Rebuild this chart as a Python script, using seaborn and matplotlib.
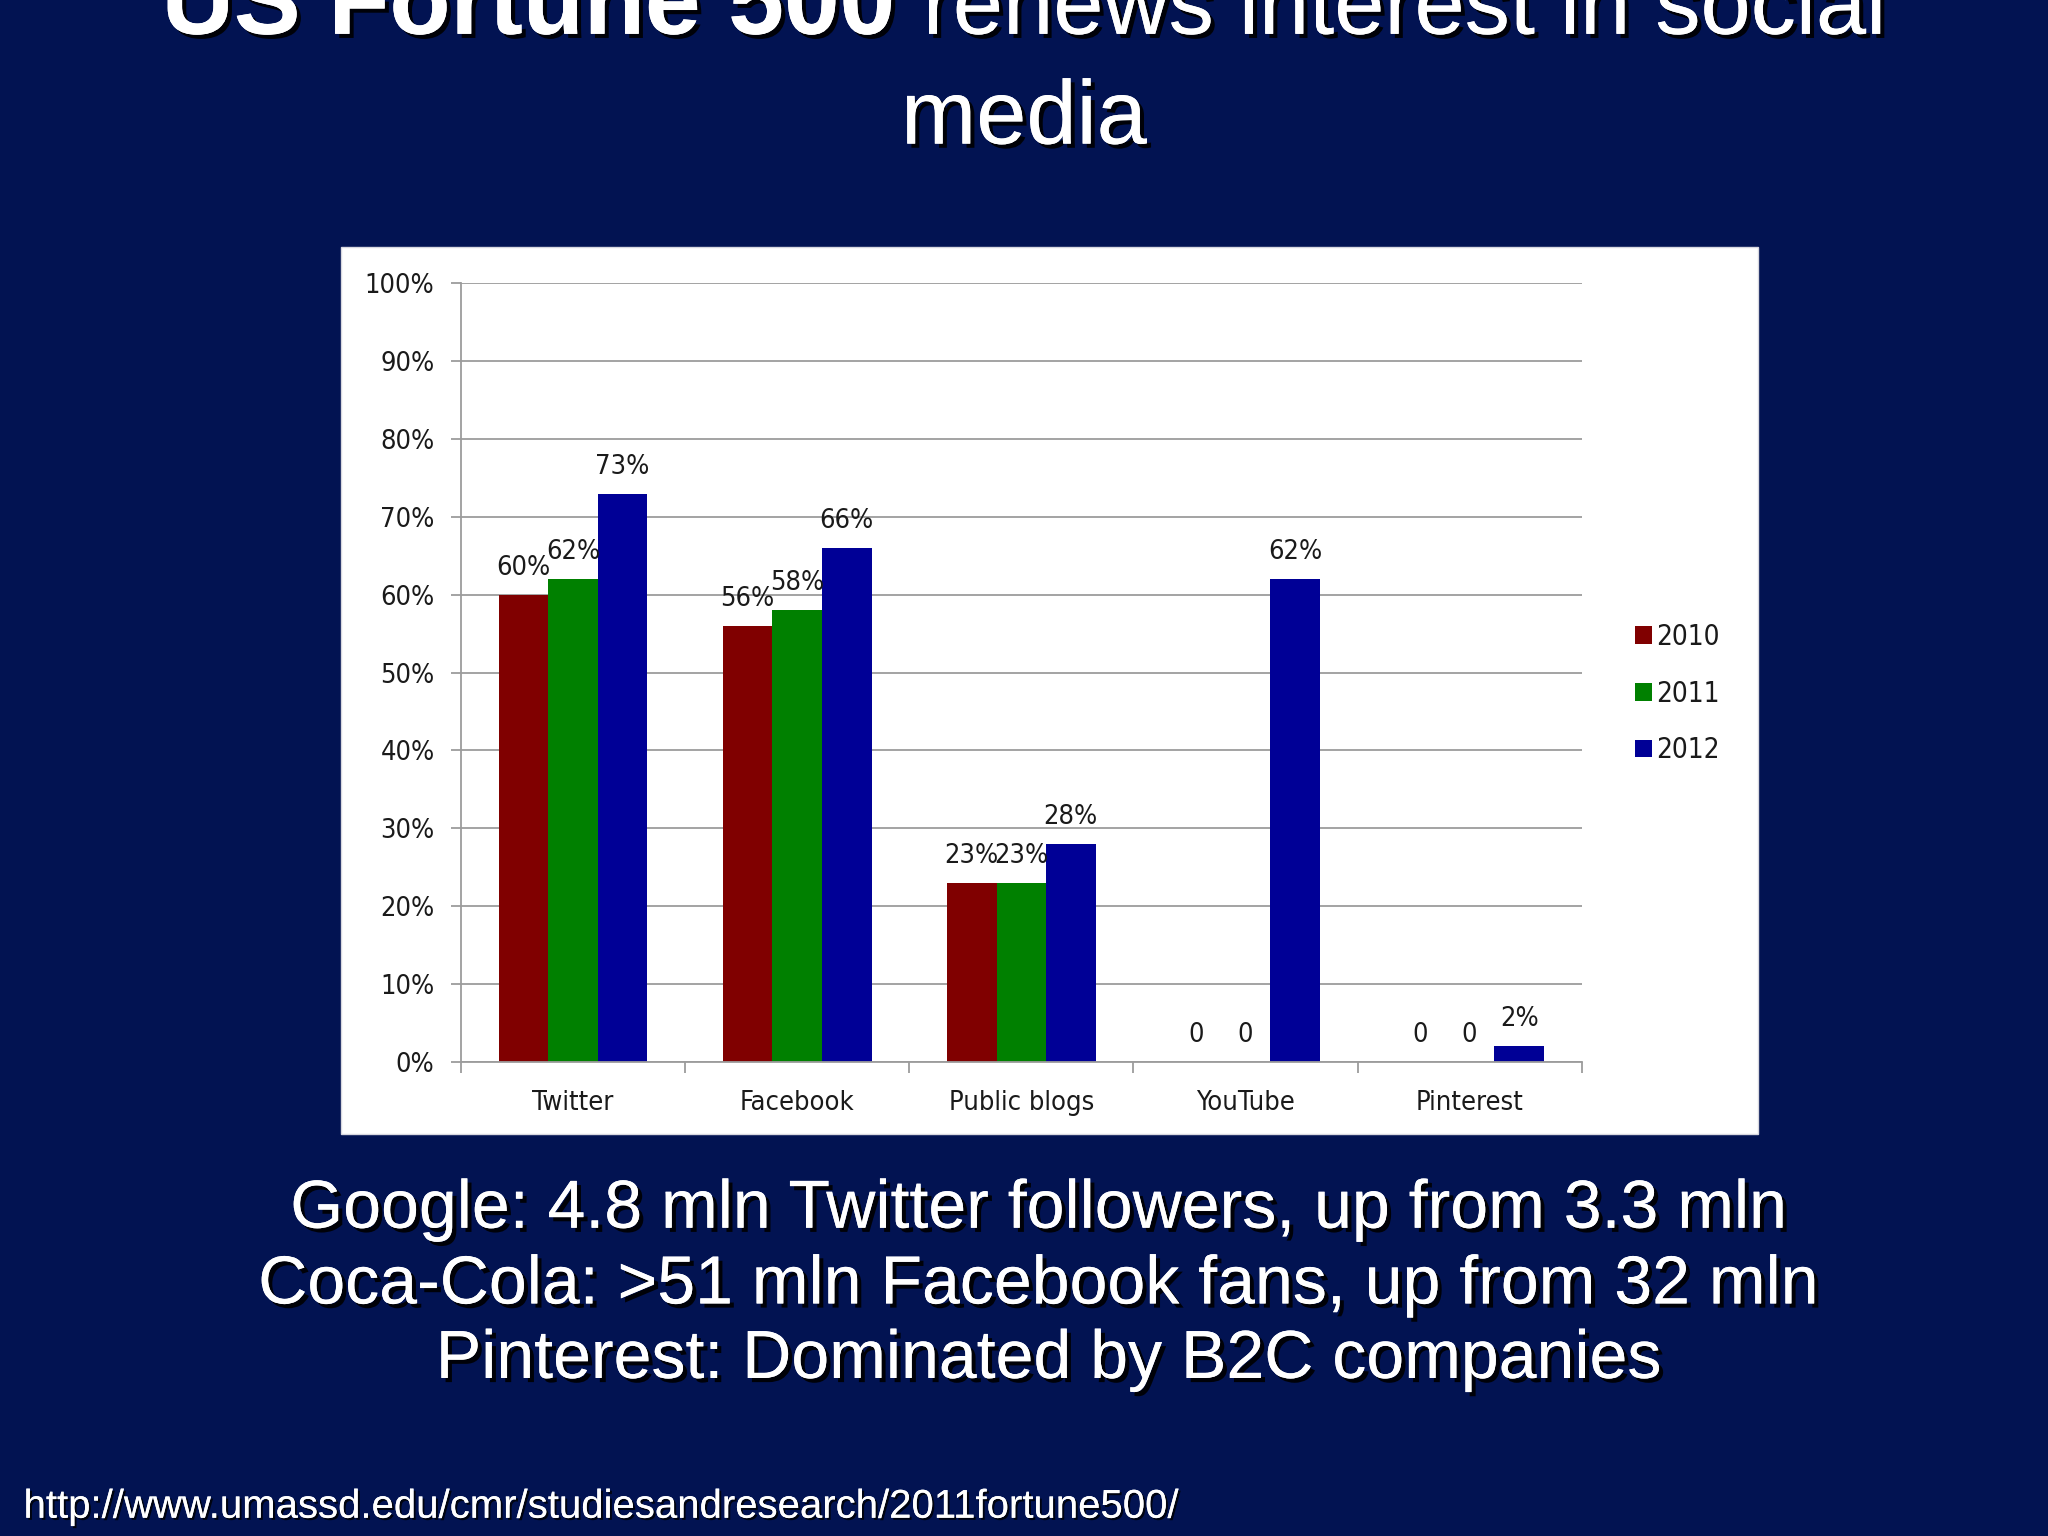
import numpy as np
import pandas as pd
import matplotlib
matplotlib.use("Agg")
import matplotlib.pyplot as plt
import matplotlib.patheffects as pe
from matplotlib.patches import Rectangle
from matplotlib import font_manager
import seaborn as sns

# ---------------- data ----------------
platforms = ["Twitter", "Facebook", "Public blogs", "YouTube", "Pinterest"]
years = ["2010", "2011", "2012"]
values_2010 = [60, 56, 23, 0, 0]
values_2011 = [62, 58, 23, 0, 0]
values_2012 = [73, 66, 28, 62, 2]
y_ticks = [0, 10, 20, 30, 40, 50, 60, 70, 80, 90, 100]
y_tick_labels = [f"{t}%" for t in y_ticks]

title_bold = "US Fortune 500 "
title_regular = "renews interest in social"
title_line2 = "media"
notes = [
    "Google: 4.8 mln Twitter followers, up from 3.3 mln",
    "Coca-Cola: >51 mln Facebook fans, up from 32 mln",
    "Pinterest: Dominated by B2C companies",
]
source_url = "http://www.umassd.edu/cmr/studiesandresearch/2011fortune500/"

colors = {"2010": "#800000", "2011": "#008000", "2012": "#000096"}
BG = "#021352"
GRID = "#9c9c9c"
TXT = "#1a1a1a"

df = pd.DataFrame({
    "platform": platforms * 3,
    "year": [years[0]] * 5 + [years[1]] * 5 + [years[2]] * 5,
    "value": values_2010 + values_2011 + values_2012,
})

sns.set_theme(style="white")
plt.rcParams["font.family"] = ["DejaVu Sans"]

# chart font: a narrow, tall sans if a condensed DejaVu is available
has_condensed = any(f.name == "DejaVu Sans" and str(f.stretch) in ("condensed", "semi-condensed")
                    for f in font_manager.fontManager.ttflist)
if has_condensed:
    CH_FONT = dict(family=["DejaVu Sans"], stretch="condensed")
    CH_SIZE = 19.5
    LEG_SPACING = 1.04
else:
    CH_FONT = dict(family=["DejaVu Sans"])
    CH_SIZE = 17.5
    LEG_SPACING = 1.32

fig = plt.figure(figsize=(20.48, 15.36), dpi=100, facecolor=BG)

# white chart panel
fig.add_artist(Rectangle((0.1665, 0.2619), 0.6919, 0.5774, transform=fig.transFigure,
                         facecolor="white", edgecolor="#d8d8e0", lw=1, zorder=-1))

ax = fig.add_axes([0.2251, 0.3087, 0.5472, 0.5068])
ax.set_facecolor("white")

sns.barplot(data=df, x="platform", y="value", hue="year", order=platforms,
            hue_order=years, palette=colors, width=0.663, saturation=1,
            edgecolor="none", linewidth=0, ax=ax, errorbar=None)

ax.set_xlim(-0.5, 4.5)
ax.set_ylim(0, 100)
ax.set_yticks(y_ticks)
ax.set_yticklabels(y_tick_labels)
ax.set_xlabel("")
ax.set_ylabel("")

ax.set_axisbelow(True)
ax.yaxis.grid(True, color=GRID, lw=1.3)
ax.xaxis.grid(False)
for s in ["top", "right"]:
    ax.spines[s].set_visible(False)
for s in ["left", "bottom"]:
    ax.spines[s].set_color(GRID)
    ax.spines[s].set_linewidth(1.3)

ax.set_xticks(np.arange(-0.5, 5, 1), minor=True)
ax.tick_params(axis="x", which="minor", bottom=True, length=8, width=1.3, color=GRID)
ax.tick_params(axis="x", which="major", bottom=True, length=0, pad=20,
               labelsize=CH_SIZE, labelcolor=TXT)
ax.tick_params(axis="y", which="major", left=True, length=7, width=1.3, color=GRID,
               pad=12, labelsize=CH_SIZE, labelcolor=TXT)
for lab in ax.get_xticklabels() + ax.get_yticklabels():
    lab.set_fontproperties(font_manager.FontProperties(size=CH_SIZE, **CH_FONT))

# bar value labels
for container, yr in zip(ax.containers, years):
    vals = [int(round(b.get_height())) for b in container]
    labels = ["0" if v == 0 else f"{v}%" for v in vals]
    texts = ax.bar_label(container, labels=labels, padding=10, fontsize=CH_SIZE, color=TXT)
    for t in texts:
        t.set_fontproperties(font_manager.FontProperties(size=CH_SIZE, **CH_FONT))

# legend
handles, labels = ax.get_legend_handles_labels()
if ax.get_legend() is not None:
    ax.get_legend().remove()
leg = fig.legend(handles, labels, loc="center left", bbox_to_anchor=(0.7985, 0.5485),
                 frameon=False, prop=font_manager.FontProperties(size=CH_SIZE + 0.5, **CH_FONT),
                 handlelength=0.6, handleheight=0.6, handletextpad=0.15,
                 labelspacing=LEG_SPACING, borderpad=0, borderaxespad=0, labelcolor=TXT)

# ---------------- slide texts ----------------
shadow = [pe.withSimplePatchShadow(offset=(3, -3), shadow_rgbFace="black", alpha=0.9),
          pe.Normal()]
shadow_small = [pe.withSimplePatchShadow(offset=(1.5, -1.5), shadow_rgbFace="black", alpha=0.8),
                pe.Normal()]
SANS = ["Liberation Sans", "DejaVu Sans"]

t1 = fig.text(0, 0.978, title_bold, fontsize=72, fontweight="bold", color="white",
              family=SANS, va="baseline", ha="left", path_effects=shadow)
t2 = fig.text(0, 0.978, title_regular, fontsize=65, color="white",
              family=SANS, va="baseline", ha="left", path_effects=shadow)
fig.canvas.draw()
r = fig.canvas.get_renderer()
W = fig.bbox.width
w1 = t1.get_window_extent(r).width / W
w2 = t2.get_window_extent(r).width / W
x0 = 0.5 - (w1 + w2) / 2
t1.set_x(x0)
t2.set_x(x0 + w1)

fig.text(0.5, 0.9065, title_line2, fontsize=65, color="white", family=SANS,
         va="baseline", ha="center", path_effects=shadow)

note_y = [0.2007, 0.1514, 0.1029]
note_x = [0.507, 0.507, 0.512]
for txt, x, y in zip(notes, note_x, note_y):
    fig.text(x, y, txt, fontsize=49, color="white", family=SANS,
             va="baseline", ha="center", path_effects=shadow)

fig.text(0.0115, 0.0119, source_url, fontsize=28.9, color="white", family=SANS,
         va="baseline", ha="left", path_effects=shadow_small)

fig.savefig("out.png", dpi=100, facecolor=BG)
